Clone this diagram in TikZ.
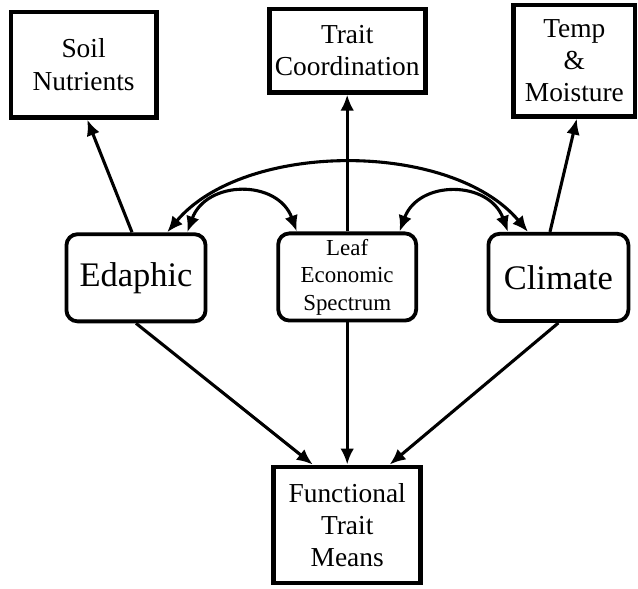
\documentclass[tikz,border=0pt]{standalone}
\usepackage{fontspec}
\setmainfont{Liberation Serif}
\usepackage{tikz}
\usetikzlibrary{shapes,arrows.meta}

\begin{document}
\begin{tikzpicture}[scale=1]
			\tikzstyle{outbox}=[draw,rectangle,line width=3.4pt,align=center,inner sep=2pt,font=\fontsize{19.5}{23}\selectfont]
			\tikzstyle{latent}=[draw,rectangle,rounded corners=8pt,line width=2.7pt,align=center,inner sep=2pt,minimum width=3.48cm,minimum height=2.18cm]
			\tikzstyle{path}=[line width=2.2pt,-{Latex[length=0.4cm,width=0.34cm]}]
			\tikzstyle{covar}=[line width=2.2pt,{Latex[length=0.4cm,width=0.34cm]}-{Latex[length=0.4cm,width=0.34cm]}]

			\useasboundingbox (0,0) rectangle (15.95,14.725);

			\node[outbox,minimum width=3.63cm,minimum height=2.63cm] (soil) at (2.09,13.11) {Soil\\Nutrients};
			\node[outbox,minimum width=3.9cm,minimum height=2.08cm] (coord) at (8.68,13.46) {Trait\\Coordination};
			\node[outbox,minimum width=3.03cm,minimum height=2.78cm] (tempmoist) at (14.36,13.21) {Temp\\\&\\Moisture};

			\node[latent,font=\fontsize{24.5}{28}\selectfont] (edaphic) at (3.4,7.78) {Edaphic};
			\node[latent,minimum width=3.45cm,font=\fontsize{16.3}{19.6}\selectfont] (les) at (8.68,7.8) {Leaf\\Economic\\Spectrum};
			\node[latent,minimum width=3.5cm,font=\fontsize{24.5}{28}\selectfont] (climate) at (13.96,7.79) {Climate};

			\node[outbox,minimum width=3.68cm,minimum height=2.9cm] (ftm) at (8.68,1.6) {Functional\\Trait\\Means};

			\draw[path] ([xshift=-0.1cm]edaphic.north) -- ([xshift=0.09cm]soil.south);
			\draw[path] (les.north) -- (coord.south);
			\draw[path] ([xshift=-0.21cm]climate.north) -- ([xshift=0.06cm]tempmoist.south);

			\draw[path] (edaphic.south) -- ([xshift=-0.86cm]ftm.north);
			\draw[path] (les.south) -- (ftm.north);
			\draw[path] (climate.south) -- ([xshift=1.06cm]ftm.north);

			\draw[covar] ([xshift=0.78cm]edaphic.north) to[out=50,in=130,looseness=0.85] ([xshift=-0.76cm]climate.north);
			\draw[covar] ([xshift=1.28cm]edaphic.north) to[out=70,in=110,looseness=1.3] ([xshift=-1.26cm]les.north);
			\draw[covar] ([xshift=1.31cm]les.north) to[out=70,in=110,looseness=1.3] ([xshift=-1.26cm]climate.north);

		\end{tikzpicture}
\end{document}
